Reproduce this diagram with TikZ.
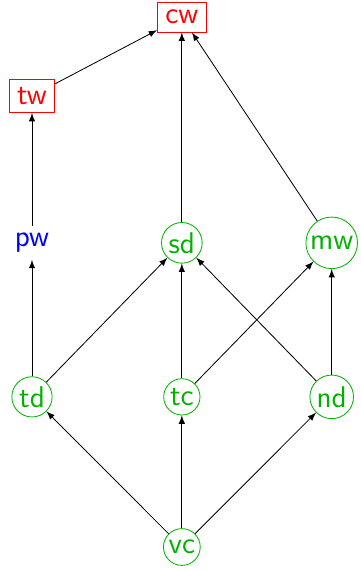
\documentclass[tikz,border=0pt]{standalone}
\usepackage{tikz}
\usetikzlibrary{arrows,positioning}
\definecolor{vargreen}{RGB}{0,178,0}

\begin{document}
\begin{tikzpicture}[
    font=\sffamily\Large,
    var/.style={circle, draw=vargreen, text=vargreen, inner sep=1.2pt},
    goal/.style={rectangle, draw=red, text=red, inner sep=3.8pt},
    link/.style={-latex, thin, color=black}
]
    \useasboundingbox (0,0) rectangle (6.09,9.64);

    % Top goals
    \node[goal] (cw) at (3.07,9.35) {cw};
    \node[goal] (tw) at (0.54,8.02) {tw};

    % Middle row
    \node[text=blue] (pw) at (0.54,5.54) {pw};
    \node[var] (sd) at (3.07,5.54) {sd};
    \node[var] (mw) at (5.60,5.54) {mw};

    % Lower row
    \node[var] (td) at (0.54,2.94) {td};
    \node[var] (tc) at (3.07,2.94) {tc};
    \node[var] (nd) at (5.60,2.94) {nd};

    % Root
    \node[var] (vc) at (3.07,0.405) {vc};

    % Edges
    \draw[link] (tw) -- (cw);
    \draw[link] (sd) -- (cw);
    \draw[link] (mw) -- (cw);
    \draw[link] (pw) -- (tw);
    \draw[link] (td) -- (pw);
    \draw[link] (td) -- (sd);
    \draw[link] (tc) -- (sd);
    \draw[link] (tc) -- (mw);
    \draw[link] (nd) -- (sd);
    \draw[link] (nd) -- (mw);
    \draw[link] (vc) -- (td);
    \draw[link] (vc) -- (tc);
    \draw[link] (vc) -- (nd);
\end{tikzpicture}
\end{document}
